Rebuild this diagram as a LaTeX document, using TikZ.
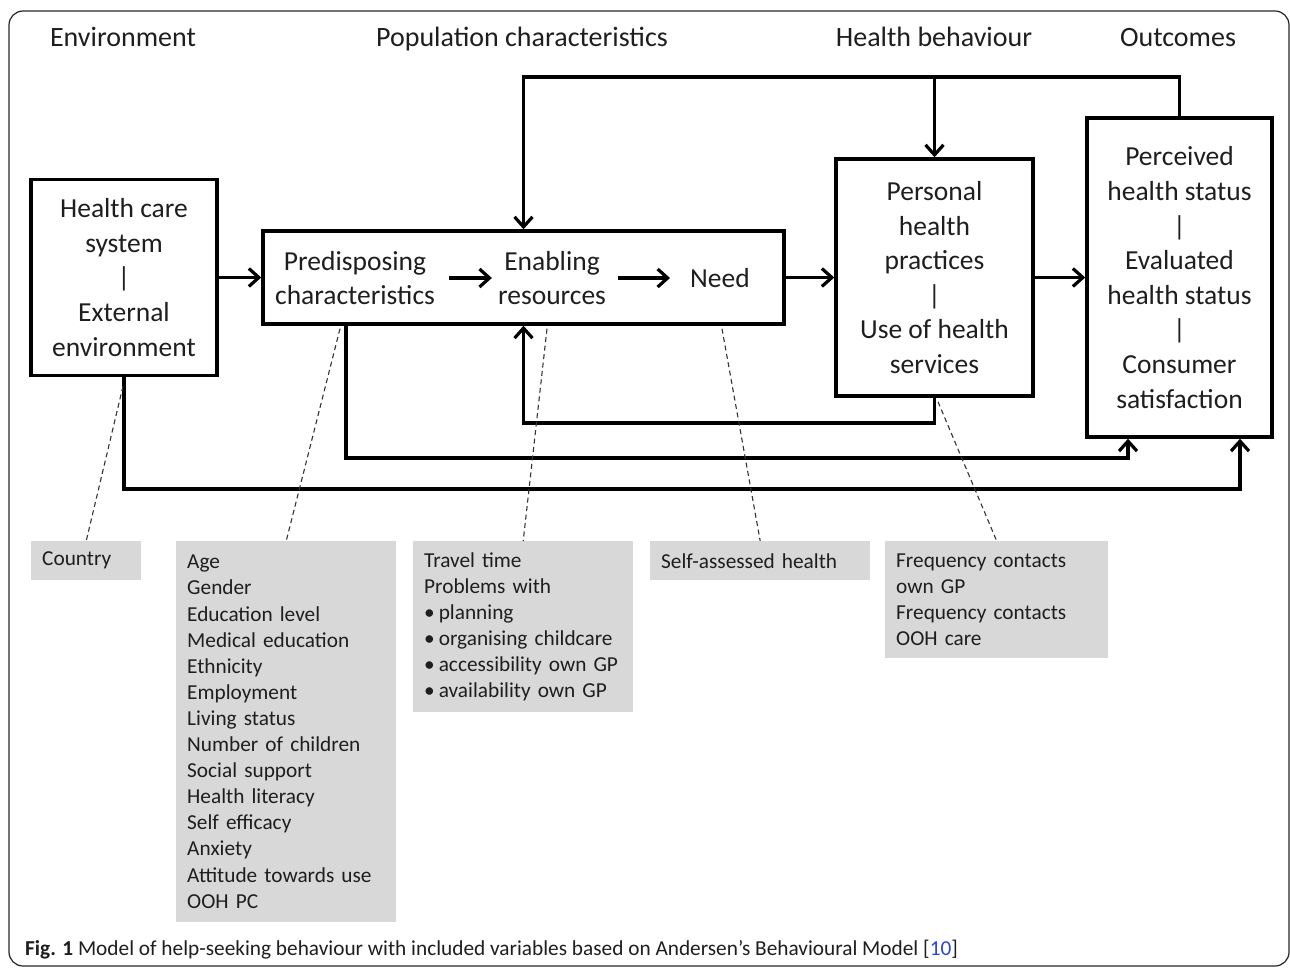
\documentclass[tikz,border=0pt]{standalone}
\usepackage{fontspec}
\setmainfont{Carlito}
\usetikzlibrary{arrows.meta,calc}
\definecolor{boxgray}{RGB}{216,216,216}
\definecolor{txt}{RGB}{30,30,30}
\definecolor{refblue}{RGB}{40,70,220}
\newcommand{\bul}{\textbullet\hspace{4pt}}
\begin{document}
\begin{tikzpicture}[x=1pt,y=-1pt,
  every node/.style={text=txt},
  mainbox/.style={draw=black,line width=3.5pt,align=center,inner sep=0pt,
    font=\fontsize{27.5}{34.6}\selectfont},
  head/.style={font=\fontsize{28}{30}\selectfont,inner sep=0pt,anchor=base},
  intext/.style={font=\fontsize{27.5}{34.6}\selectfont,align=center,inner sep=0pt},
  graybox/.style={fill=boxgray,align=left,anchor=north west,inner xsep=11pt,inner ysep=0pt,
    font=\fontsize{21.3}{26.1}\selectfont},
  conn/.style={line width=3.5pt},
  arr/.style={conn,-{Straight Barb[length=10pt,width=18pt,line width=3.2pt]}},
  dsh/.style={line width=1.1pt,dash pattern=on 5pt off 3.5pt,draw=black!80}]
\useasboundingbox (0,0) rectangle (1290,968);
% outer frame
\draw[line width=1.2pt,rounded corners=14pt,draw=black!85] (9,11) rectangle (1289,966);
% headings
\node[head] (h1) at (123,47) {Environment};
\node[head] (h2) at (522,47) {Population characteristics};
\node[head] (h3) at (934,47) {Health behaviour};
\node[head] (h4) at (1178,47) {Outcomes};
% main boxes
\node[mainbox,minimum width=186pt,minimum height=196pt] (hcs) at (124,277.5)
  {Health care\\system\\|\\External\\environment};
\node[mainbox,minimum width=521pt,minimum height=93pt] (pop) at (523.5,277.5) {};
\node[intext] (pre) at (355,278) {Predisposing\\characteristics};
\node[intext] (ena) at (552,278) {Enabling\\resources};
\node[intext] (need) at (720,278) {Need};
\node[mainbox,minimum width=197pt,minimum height=237pt] (php) at (934.5,277.5)
  {Personal\\health\\practices\\|\\Use of health\\services};
\node[mainbox,minimum width=185pt,minimum height=319pt] (out) at (1179.5,277.5)
  {Perceived\\health status\\|\\Evaluated\\health status\\|\\Consumer\\satisfaction};
% arrows inside population box
\draw[arr] ([xshift=14pt]pre.east) -- ([xshift=-6pt]ena.west);
\draw[arr] ([xshift=12pt]ena.east) -- ([xshift=-20pt]need.west);
% main flow
\draw[arr] (hcs.east) -- (pop.west);
\draw[arr] (pop.east) -- (php.west);
\draw[arr] (php.east) -- (out.west);
% feedback top
\coordinate (tl) at (523.5,77);
\draw[arr] (out.north) |- (tl) -- (pop.north);
\draw[arr] (php.north |- tl) -- (php.north);
% feedback from personal health practices back to enabling
\coordinate (bl) at (523.5,423);
\draw[arr] (php.south) |- (bl) -- (pop.south);
% predisposing to outcomes
\coordinate (p1) at (346,458);
\draw[arr] (pop.south -| p1) -- (p1) -| (out.south -| 1128,0);
% environment to outcomes
\coordinate (e1) at (124,489);
\draw[arr] (hcs.south) -- (e1) -| (out.south -| 1240,0);
% gray variable boxes
\node[graybox,text width=88pt,minimum height=39pt] (country) at (31,541) {Country};
\node[graybox,text width=198pt,minimum height=381pt] (age) at (176,541)
  {Age\\Gender\\Education level\\Medical education\\Ethnicity\\Employment\\Living status\\Number of children\\Social support\\Health literacy\\Self efficacy\\Anxiety\\Attitude towards use\\OOH PC};
\node[graybox,text width=198pt,minimum height=171pt] (travel) at (413,541)
  {Travel time\\Problems with\\\bul planning\\\bul organising childcare\\\bul accessibility own GP\\\bul availability own GP};
\node[graybox,text width=198pt,minimum height=39pt] (self) at (650,541) {Self-assessed health};
\node[graybox,text width=201pt,minimum height=117pt] (freq) at (885,541)
  {Frequency contacts\\own GP\\Frequency contacts\\OOH care};
% dashed links
\draw[dsh] ($(hcs.south)+(-1,9)$) -- (country.north);
\draw[dsh] ($(pop.south -| 340,0)+(0,3)$) -- (age.north);
\draw[dsh] ($(pop.south -| 547,0)+(0,3)$) -- (travel.north);
\draw[dsh] ($(pop.south -| 722,0)+(0,3)$) -- (self.north);
\draw[dsh] ($(php.south -| 938,0)+(0,4)$) -- (freq.north);
% caption
\node[anchor=west,inner sep=0pt,font=\fontsize{21.3}{24}\selectfont] (cap) at (25,950)
  {\textbf{Fig. 1} Model of help-seeking behaviour with included variables based on Andersen’s Behavioural Model [\textcolor{refblue}{10}]};
\end{tikzpicture}
\end{document}
